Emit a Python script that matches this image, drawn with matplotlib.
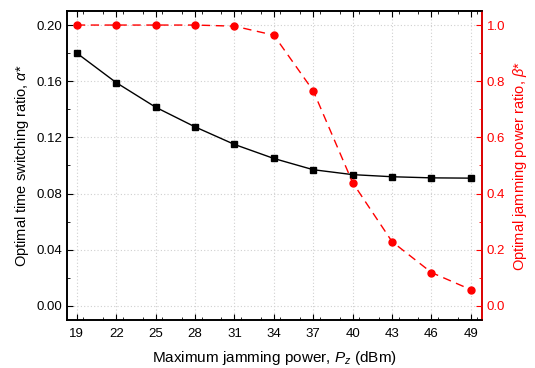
import numpy as np
import matplotlib as mpl
from matplotlib import pyplot as plt
from matplotlib.ticker import MultipleLocator

mpl.rcParams["font.family"] = ["Liberation Sans", "DejaVu Sans"]
mpl.rcParams["mathtext.fontset"] = "custom"
mpl.rcParams["mathtext.it"] = "Liberation Sans:italic"
mpl.rcParams["mathtext.rm"] = "Liberation Sans"

power = [19, 22, 25, 28, 31, 34, 37, 40, 43, 46, 49]
alpha = [0.180, 0.159, 0.1415, 0.1275, 0.115, 0.105, 0.097, 0.0935, 0.092, 0.0912, 0.091]
beta = [1.0, 1.0, 1.0, 1.0, 0.996, 0.964, 0.766, 0.439, 0.229, 0.119, 0.058]


def main():
    fig = plt.figure(figsize=(5.35, 3.68), dpi=100)
    ax = fig.add_axes([67 / 535, 48 / 368, 415 / 535, 309 / 368])
    ax2 = ax.twinx()

    ax.plot(power, alpha, color="black", marker="s", markersize=5, linewidth=1, zorder=3)
    ax2.plot(power, beta, color="red", marker="o", markersize=5, linewidth=1,
             linestyle=(0, (6, 4)), zorder=3)

    ax.set_xlim(18.25, 49.85)
    ax.set_ylim(-0.01, 0.21)
    ax2.set_ylim(-0.05, 1.05)
    ax.set_xticks(power)
    ax.xaxis.set_minor_locator(MultipleLocator(1.5))
    ax.set_yticks([0.0, 0.04, 0.08, 0.12, 0.16, 0.20])
    ax.yaxis.set_minor_locator(MultipleLocator(0.02))
    ax.set_yticklabels(["0.00", "0.04", "0.08", "0.12", "0.16", "0.20"])
    ax2.set_yticks([0.0, 0.2, 0.4, 0.6, 0.8, 1.0])
    ax2.yaxis.set_minor_locator(MultipleLocator(0.1))

    ax.grid(True, which="major", color="#d0d0d0", linestyle=(0, (1, 2)), linewidth=0.8)
    ax.set_axisbelow(True)

    ax.tick_params(axis="both", which="both", direction="in", labelsize=9.5)
    ax.tick_params(axis="x", which="both", top=True, pad=6)
    ax.tick_params(which="major", length=4)
    ax.tick_params(which="minor", length=2)
    ax2.tick_params(axis="y", which="both", direction="in", colors="red", labelsize=9.5)
    ax2.tick_params(which="major", length=4)
    ax2.tick_params(which="minor", length=2)
    for s in ax.spines.values():
        s.set_linewidth(1.2)
    for s in ax2.spines.values():
        s.set_linewidth(1.2)
    ax2.spines["right"].set_color("red")

    ax.set_xlabel(r"Maximum jamming power, $P_z$ (dBm)", fontsize=11, labelpad=6)
    ax.set_ylabel(r"Optimal time switching ratio, $\alpha$*", fontsize=10.5)
    ax2.set_ylabel(r"Optimal jamming power ratio, $\beta$*", fontsize=10.5, color="red")

    fig.savefig("out.png", dpi=100)
    plt.close(fig=fig)


if __name__ == "__main__":
    main()
